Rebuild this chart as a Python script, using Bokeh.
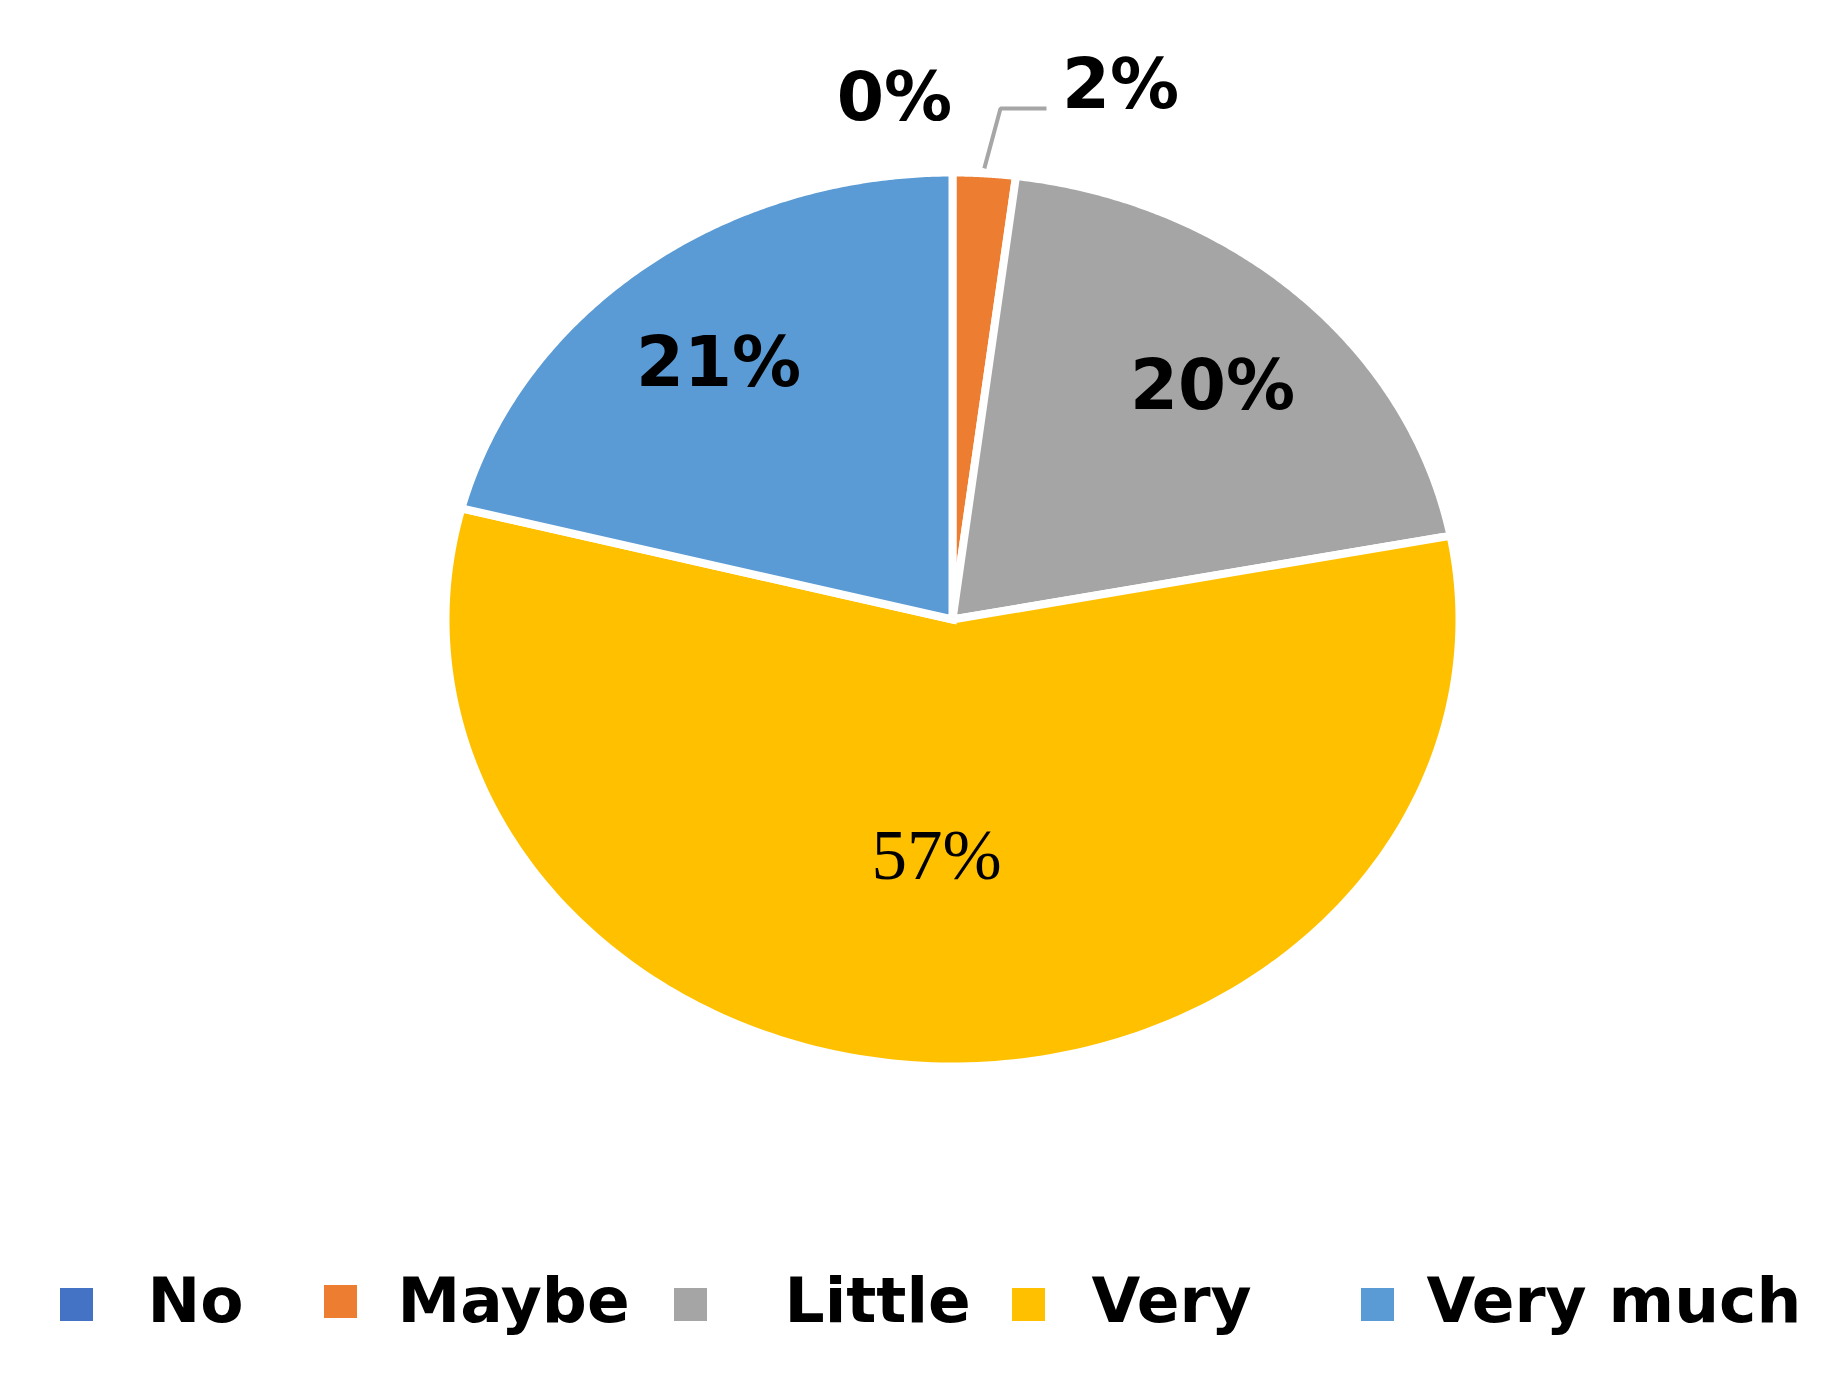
import numpy as np
from bokeh.plotting import figure
from bokeh.models import Range1d
from bokeh.core.properties import value
from bokeh.embed import file_html
from bokeh.resources import INLINE

# ---- data ----
categories = ["No", "Maybe", "Little", "Very", "Very much"]
percents = [0, 2, 20, 57, 21]
labels = ["0%", "2%", "20%", "57%", "21%"]
colors = ["#4472C4", "#ED7D31", "#A5A5A5", "#FFC000", "#5B9BD5"]

# ---- layout (pixel coordinates of the 1840x1384 picture, y downward) ----
CX, CY, RX, RY = 952, 619, 507, 447
label_pos = [(894, 96), (1120, 83), (1212, 384), (936, 854), (718, 361)]
label_font = ["DejaVu Sans", "DejaVu Sans", "DejaVu Sans", "Liberation Serif", "DejaVu Sans"]
label_style = ["bold", "bold", "bold", "normal", "bold"]
label_size = ["68px", "69px", "69px", "71px", "69px"]
legend_sq_x = [76, 340, 690, 1028, 1377]
legend_sq_y = [1304, 1301, 1304, 1304, 1304]
legend_txt_x = [147, 397, 784, 1091, 1426]
legend_mid_y = 1300

W, H = 1824, 1368
p = figure(width=W, height=H, output_backend="svg", toolbar_location=None,
           x_range=Range1d(0, W), y_range=Range1d(H, 0),
           min_border=0, background_fill_color="white", border_fill_color="white")
p.axis.visible = False
p.grid.visible = False
p.outline_line_color = None

# ---- pie slices (elliptical) ----
total = float(sum(percents))
cum = np.concatenate([[0.0], np.cumsum(percents) / total])
xs, ys, cs = [], [], []
for i, v in enumerate(percents):
    if v <= 0:
        continue
    th = 2 * np.pi * np.linspace(cum[i], cum[i + 1], 200)
    px = np.concatenate([[CX], CX + RX * np.sin(th)])
    py = np.concatenate([[CY], CY - RY * np.cos(th)])
    xs.append(list(px)); ys.append(list(py)); cs.append(colors[i])
p.patches(xs=xs, ys=ys, fill_color=cs, line_color="white", line_width=8,
          line_join="miter")

# ---- leader line for the small "Maybe" slice ----
mid = 2 * np.pi * (cum[1] + cum[2]) / 2
sx, sy = CX + RX * np.sin(mid), CY - RY * np.cos(mid) - 5
p.line(x=[sx, 1000, 1046], y=[sy, 108, 108], line_color="#A6A6A6", line_width=4)

# ---- data labels ----
for i, lab in enumerate(labels):
    x, y = label_pos[i]
    p.text(x=[x], y=[y], text=[lab], text_align="center", text_baseline="middle",
           text_font=value(label_font[i]), text_font_style=label_style[i],
           text_font_size=label_size[i], text_color="black")

# ---- legend ----
p.rect(x=legend_sq_x, y=legend_sq_y, width=33, height=33, fill_color=colors,
       line_color=None)
p.text(x=legend_txt_x, y=[legend_mid_y] * len(categories), text=categories,
       text_align="left", text_baseline="middle",
       text_font=value("DejaVu Sans"), text_font_style="bold",
       text_font_size="63px", text_color="black")

open("out.html", "w").write(file_html(p, INLINE))
